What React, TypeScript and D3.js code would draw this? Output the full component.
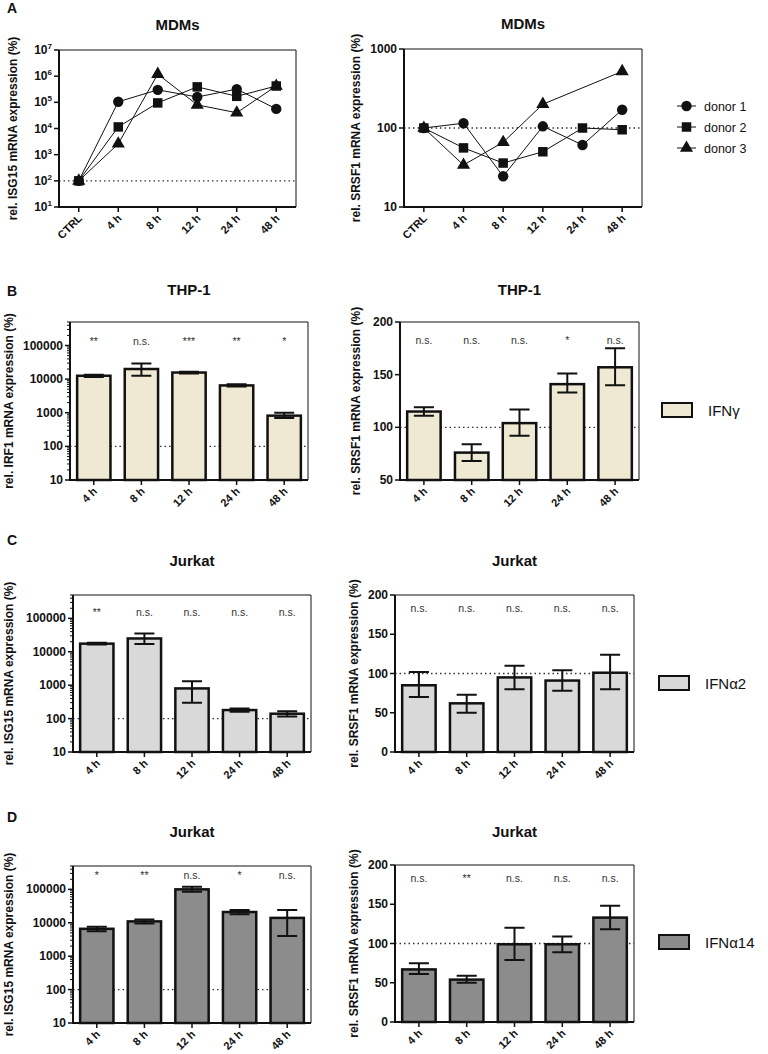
import React, { useEffect, useRef } from "react";
import * as d3 from "d3";

// A: MDMs, one series per donor
const timesMDM = ["CTRL", "4 h", "8 h", "12 h", "24 h", "48 h"];
const donorNames = ["donor 1", "donor 2", "donor 3"];
const isg15Donor1 = [100, 105000, 300000, 160000, 320000, 56000];
const isg15Donor2 = [100, 11500, 95000, 390000, 170000, 420000];
const isg15Donor3 = [100, 2600, 1200000, 80000, 40000, 420000];
const srsf1Donor1 = [100, 115, 24.5, 105, 61, 170];
const srsf1Donor2 = [100, 56, 36, 50, 100, 95];
const srsf1Donor3 = [100, 34, 66, 200, null, 520];

// B-D: cell lines, mean with upper / lower error
const hours = ["4 h", "8 h", "12 h", "24 h", "48 h"];

const thpIrf1Mean = [12600, 20000, 15700, 6500, 820];
const thpIrf1Upper = [13600, 29000, 16600, 7000, 1000];
const thpIrf1Lower = [11600, 12600, 14800, 6000, 700];
const thpIrf1Sig = ["**", "n.s.", "***", "**", "*"];

const thpSrsf1Mean = [115, 76, 104, 141, 157];
const thpSrsf1Upper = [119, 84, 117, 151, 175];
const thpSrsf1Lower = [111, 68, 92, 133, 140];
const thpSrsf1Sig = ["n.s.", "n.s.", "n.s.", "*", "n.s."];

const a2Isg15Mean = [17500, 25000, 800, 180, 140];
const a2Isg15Upper = [18500, 35000, 1300, 200, 165];
const a2Isg15Lower = [16500, 17000, 300, 160, 115];
const a2Isg15Sig = ["**", "n.s.", "n.s.", "n.s.", "n.s."];

const a2Srsf1Mean = [85, 62, 95, 91, 101];
const a2Srsf1Upper = [102, 73, 110, 104, 124];
const a2Srsf1Lower = [70, 50, 80, 78, 80];
const a2Srsf1Sig = ["n.s.", "n.s.", "n.s.", "n.s.", "n.s."];

const a14Isg15Mean = [6600, 11000, 100000, 21000, 14000];
const a14Isg15Upper = [7600, 12500, 120000, 24000, 24000];
const a14Isg15Lower = [5600, 9500, 85000, 18000, 4000];
const a14Isg15Sig = ["*", "**", "n.s.", "*", "n.s."];

const a14Srsf1Mean = [67, 54, 99, 99, 133];
const a14Srsf1Upper = [75, 59, 120, 109, 148];
const a14Srsf1Lower = [61, 50, 79, 89, 118];
const a14Srsf1Sig = ["n.s.", "**", "n.s.", "n.s.", "n.s."];

const logTicks = [10, 100, 1000, 10000, 100000];
const linTicks200 = [0, 50, 100, 150, 200];
const linTicks50 = [50, 100, 150, 200];

const FONT = "'Liberation Sans', Arial, sans-serif";
const INK = "#111";

type Frame = { x0: number; x1: number; y0: number; y1: number };

function drawFrame(g: any, f: Frame) {
  g.append("path").attr("d", `M${f.x0},${f.y0}H${f.x1}V${f.y1}`)
    .attr("fill", "none").attr("stroke", INK).attr("stroke-width", 1);
  g.append("path").attr("d", `M${f.x0},${f.y0}V${f.y1}H${f.x1}`)
    .attr("fill", "none").attr("stroke", INK).attr("stroke-width", 2);
}

function yAxis(g: any, y: any, f: Frame, major: number[], minor: number[], sup: boolean) {
  minor.forEach(v => {
    g.append("line").attr("x1", f.x0 - 3).attr("x2", f.x0).attr("y1", y(v)).attr("y2", y(v))
      .attr("stroke", INK).attr("stroke-width", 1);
  });
  major.forEach(v => {
    g.append("line").attr("x1", f.x0 - 5).attr("x2", f.x0).attr("y1", y(v)).attr("y2", y(v))
      .attr("stroke", INK).attr("stroke-width", 1.5);
    const t = g.append("text").attr("x", f.x0 - 7).attr("y", y(v) + 4)
      .attr("text-anchor", "end").attr("font-family", FONT).attr("font-weight", "bold")
      .attr("font-size", 12).attr("fill", INK);
    if (sup) {
      t.append("tspan").text("10");
      t.append("tspan").attr("dy", -5).attr("font-size", 8).text(String(Math.round(Math.log10(v))));
    } else {
      t.text(String(v));
    }
  });
}

function xAxis(g: any, x: any, cats: string[], f: Frame, band: boolean) {
  cats.forEach(c => {
    const cx = band ? x(c) + x.bandwidth() / 2 : x(c);
    g.append("line").attr("x1", cx).attr("x2", cx).attr("y1", f.y1).attr("y2", f.y1 + 5)
      .attr("stroke", INK).attr("stroke-width", 1.5);
    g.append("text").attr("transform", `translate(${cx + 4},${f.y1 + 12}) rotate(-45)`)
      .attr("text-anchor", "end").attr("font-family", FONT).attr("font-weight", "bold")
      .attr("font-size", 11).attr("fill", INK).text(c);
  });
}

function titles(g: any, f: Frame, title: string, titleY: number, ylab: string, ylabX: number) {
  g.append("text").attr("x", (f.x0 + f.x1) / 2).attr("y", titleY).attr("text-anchor", "middle")
    .attr("font-family", FONT).attr("font-weight", "bold").attr("font-size", 15).attr("fill", INK)
    .text(title);
  g.append("text").attr("transform", `translate(${ylabX},${(f.y0 + f.y1) / 2}) rotate(-90)`)
    .attr("text-anchor", "middle").attr("font-family", FONT).attr("font-weight", "bold")
    .attr("font-size", 12).attr("fill", INK).text(ylab);
}

function refLine(g: any, f: Frame, yv: number) {
  g.append("line").attr("x1", f.x0).attr("x2", f.x1).attr("y1", yv).attr("y2", yv)
    .attr("stroke", "#333").attr("stroke-width", 1.3).attr("stroke-dasharray", "1.5,3");
}

const symbols = [d3.symbolCircle, d3.symbolSquare, d3.symbolTriangle];
const symbolSizes = [85, 90, 75];

function linePanel(g: any, f: Frame, domain: number[], major: number[], sup: boolean,
  series: (number | null)[][], title: string, titleY: number, ylab: string, ylabX: number) {
  const x = d3.scalePoint().domain(timesMDM).range([f.x0, f.x1]).padding(0.5);
  const y = d3.scaleLog().domain(domain).range([f.y1, f.y0]);
  refLine(g, f, y(100));
  series.forEach((vals, i) => {
    const pts = vals.map((v, j) => ({ t: timesMDM[j], v })).filter(d => d.v != null) as { t: string; v: number }[];
    const line = d3.line<{ t: string; v: number }>().x(d => x(d.t) as number).y(d => y(d.v));
    g.append("path").attr("d", line(pts)).attr("fill", "none").attr("stroke", INK).attr("stroke-width", 1);
    pts.forEach(d => {
      g.append("path").attr("d", d3.symbol().type(symbols[i]).size(symbolSizes[i])())
        .attr("transform", `translate(${x(d.t)},${y(d.v)})`).attr("fill", INK);
    });
  });
  drawFrame(g, f);
  yAxis(g, y, f, major, [], sup);
  xAxis(g, x, timesMDM, f, false);
  titles(g, f, title, titleY, ylab, ylabX);
}

function barPanel(g: any, f: Frame, log: boolean, domain: number[], major: number[],
  mean: number[], upper: number[], lower: number[], sig: string[], sigAt: number, fill: string,
  title: string, titleY: number, ylab: string, ylabX: number) {
  const x = d3.scaleBand().domain(hours).range([f.x0, f.x1]).paddingInner(0.3).paddingOuter(0.15);
  const y: any = log ? d3.scaleLog().domain(domain).range([f.y1, f.y0])
    : d3.scaleLinear().domain(domain).range([f.y1, f.y0]);
  refLine(g, f, y(100));
  const bw = x.bandwidth();
  hours.forEach((h, i) => {
    const bx = x(h) as number;
    g.append("rect").attr("x", bx).attr("y", y(mean[i])).attr("width", bw)
      .attr("height", f.y1 - y(mean[i])).attr("fill", fill).attr("stroke", INK).attr("stroke-width", 2.5);
    const cx = bx + bw / 2;
    const cap = bw * 0.3;
    g.append("path")
      .attr("d", `M${cx},${y(lower[i])}V${y(upper[i])}M${cx - cap},${y(upper[i])}H${cx + cap}M${cx - cap},${y(lower[i])}H${cx + cap}`)
      .attr("fill", "none").attr("stroke", INK).attr("stroke-width", 2);
    g.append("text").attr("x", cx).attr("y", y(sigAt) + 4).attr("text-anchor", "middle")
      .attr("font-family", FONT).attr("font-size", 10.5).attr("fill", "#333").text(sig[i]);
  });
  let minor: number[] = [];
  if (log) minor = y.ticks().filter((v: number) => !major.includes(v));
  drawFrame(g, f);
  yAxis(g, y, f, major, minor, false);
  xAxis(g, x, hours, f, true);
  titles(g, f, title, titleY, ylab, ylabX);
}

function letter(g: any, s: string, y: number) {
  g.append("text").attr("x", 7).attr("y", y).attr("font-family", FONT).attr("font-weight", "bold")
    .attr("font-size", 14).attr("fill", INK).text(s);
}

function boxLegend(g: any, x: number, y: number, fill: string, label: string) {
  g.append("rect").attr("x", x).attr("y", y).attr("width", 30).attr("height", 14)
    .attr("fill", fill).attr("stroke", INK).attr("stroke-width", 2);
  g.append("text").attr("x", x + 46).attr("y", y + 13).attr("font-family", FONT)
    .attr("font-size", 15).attr("fill", INK).text(label);
}

export default function App() {
  const ref = useRef<SVGSVGElement>(null);

  useEffect(() => {
    document.body.style.margin = "0";
    const svg = d3.select(ref.current);
    svg.selectAll("*").remove();
    const g = svg.append("g");

    // A
    letter(g, "A", 13);
    linePanel(g, { x0: 59, x1: 296, y0: 50, y1: 207 }, [10, 1e7], [10, 100, 1e3, 1e4, 1e5, 1e6, 1e7], true,
      [isg15Donor1, isg15Donor2, isg15Donor3], "MDMs", 30, "rel. ISG15 mRNA expression (%)", 17);
    linePanel(g, { x0: 404, x1: 642, y0: 49, y1: 207 }, [10, 1000], [10, 100, 1000], false,
      [srsf1Donor1, srsf1Donor2, srsf1Donor3], "MDMs", 29, "rel. SRSF1 mRNA expression (%)", 360);
    donorNames.forEach((n, i) => {
      const ly = 106 + i * 21;
      g.append("line").attr("x1", 677).attr("x2", 696).attr("y1", ly).attr("y2", ly)
        .attr("stroke", INK).attr("stroke-width", 1);
      g.append("path").attr("d", d3.symbol().type(symbols[i]).size(symbolSizes[i])())
        .attr("transform", `translate(686.5,${ly})`).attr("fill", INK);
      g.append("text").attr("x", 704).attr("y", ly + 4.5).attr("font-family", FONT)
        .attr("font-size", 12.5).attr("fill", INK).text(n);
    });

    // B
    letter(g, "B", 296);
    barPanel(g, { x0: 70, x1: 308, y0: 322, y1: 480 }, true, [10, 5e5], logTicks,
      thpIrf1Mean, thpIrf1Upper, thpIrf1Lower, thpIrf1Sig, 140000, "#efe9d3",
      "THP-1", 295, "rel. IRF1 mRNA expression (%)", 13);
    barPanel(g, { x0: 400, x1: 639, y0: 322, y1: 480 }, false, [50, 200], linTicks50,
      thpSrsf1Mean, thpSrsf1Upper, thpSrsf1Lower, thpSrsf1Sig, 183, "#efe9d3",
      "THP-1", 295, "rel. SRSF1 mRNA expression (%)", 360);
    boxLegend(g, 662, 403, "#efe9d3", "IFNγ");

    // C
    letter(g, "C", 545);
    barPanel(g, { x0: 73, x1: 311, y0: 595, y1: 752 }, true, [10, 5e5], logTicks,
      a2Isg15Mean, a2Isg15Upper, a2Isg15Lower, a2Isg15Sig, 160000, "#d9d9d9",
      "Jurkat", 566, "rel. ISG15 mRNA expression (%)", 13);
    barPanel(g, { x0: 395, x1: 634, y0: 595, y1: 752 }, false, [0, 200], linTicks200,
      a2Srsf1Mean, a2Srsf1Upper, a2Srsf1Lower, a2Srsf1Sig, 183, "#d9d9d9",
      "Jurkat", 566, "rel. SRSF1 mRNA expression (%)", 358);
    boxLegend(g, 659, 676, "#d9d9d9", "IFNα2");

    // D
    letter(g, "D", 822);
    barPanel(g, { x0: 73, x1: 311, y0: 866, y1: 1023 }, true, [10, 5e5], logTicks,
      a14Isg15Mean, a14Isg15Upper, a14Isg15Lower, a14Isg15Sig, 270000, "#8c8c8c",
      "Jurkat", 837, "rel. ISG15 mRNA expression (%)", 13);
    barPanel(g, { x0: 395, x1: 634, y0: 865, y1: 1022 }, false, [0, 200], linTicks200,
      a14Srsf1Mean, a14Srsf1Upper, a14Srsf1Lower, a14Srsf1Sig, 183, "#8c8c8c",
      "Jurkat", 837, "rel. SRSF1 mRNA expression (%)", 358);
    boxLegend(g, 659, 935, "#8c8c8c", "IFNα14");
  }, []);

  return (
    <svg ref={ref} width={768} height={1054} style={{ display: "block", background: "#fff" }} />
  );
}
